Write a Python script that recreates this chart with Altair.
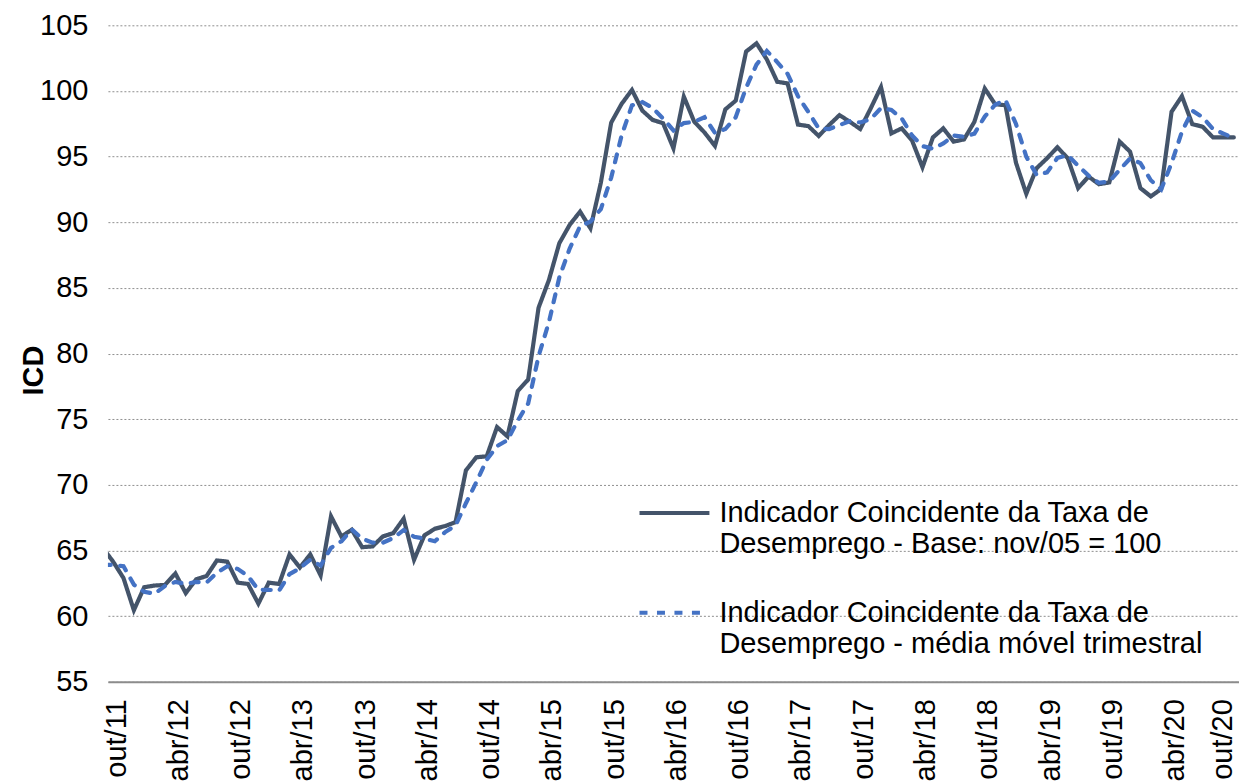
import altair as alt
import pandas as pd

# Tick labels (every 6 months, starting at out/11 = index 0)
tick_labels = ["out/11", "abr/12", "out/12", "abr/13", "out/13", "abr/14", "out/14",
               "abr/15", "out/15", "abr/16", "out/16", "abr/17", "out/17", "abr/18",
               "out/18", "abr/19", "out/19", "abr/20", "out/20"]

# Month index: -1 = set/11 (clipped at the left edge), 0 = out/11 ... 108 = out/20
month_index = list(range(-1, 109))

icd = [65.2, 64.15, 62.9, 60.45, 62.2, 62.33, 62.38, 63.25, 61.75, 62.8,
       63.05, 64.24, 64.15, 62.55, 62.45, 60.95, 62.55, 62.45, 64.7, 63.7,
       64.7, 63.1, 67.6, 66.07, 66.58, 65.25, 65.31, 66.07, 66.32, 67.42,
       64.29, 66.15, 66.65, 66.86, 67.16, 71.1, 72.1, 72.17, 74.4, 73.69,
       77.15, 78.02, 83.49, 85.6, 88.4, 89.8, 90.81, 89.54, 93.0, 97.59,
       99.01, 100.08, 98.5, 97.79, 97.54, 95.63, 99.57, 97.66, 96.83, 95.81,
       98.6, 99.26, 103.0, 103.63, 102.4, 100.7, 100.57, 97.44, 97.32, 96.57,
       97.4, 98.16, 97.65, 97.1, 98.66, 100.3, 96.77, 97.15, 96.21, 94.19,
       96.46, 97.15, 96.14, 96.31, 97.65, 100.18, 98.99, 98.91, 94.55, 92.17,
       94.12, 94.87, 95.71, 94.87, 92.6, 93.48, 92.9, 93.03, 96.14, 95.38,
       92.6, 91.97, 92.53, 98.41, 99.6, 97.47, 97.27, 96.46, 96.46, 96.46]

icd_mm3 = [63.9, 63.9, 63.8, 62.4, 61.85, 61.7, 62.3, 62.6, 62.45, 62.6,
           62.55, 63.3, 63.8, 63.6, 63.05, 62.0, 62.0, 61.95, 63.2, 63.65,
           64.3, 63.85, 65.2, 65.7, 66.6, 65.9, 65.6, 65.6, 65.95, 66.55,
           66.05, 65.9, 65.7, 66.4, 66.9, 68.6, 70.2, 71.9, 72.95, 73.4,
           74.9, 76.2, 79.8, 82.4, 85.8, 88.0, 89.7, 90.05, 91.0, 93.4,
           96.6, 98.9, 99.15, 98.7, 97.9, 97.0, 97.55, 97.65, 98.0, 96.8,
           97.1, 98.0, 100.25, 102.0, 103.05, 102.2, 101.3, 99.6, 98.4, 97.15,
           97.1, 97.4, 97.7, 97.6, 97.85, 98.7, 98.55, 97.9, 96.6, 95.8,
           95.6, 96.0, 96.6, 96.5, 96.75, 98.05, 98.95, 99.3, 97.5, 95.0,
           93.6, 93.8, 94.9, 95.1, 94.3, 93.55, 93.0, 93.1, 94.0, 94.85,
           94.5, 93.2, 92.5, 94.5, 96.9, 98.5, 98.0, 97.1, 96.75, 96.4]

series_names = [
    "Indicador Coincidente da Taxa de|Desemprego - Base: nov/05 = 100",
    "Indicador Coincidente da Taxa de|Desemprego - média móvel trimestral",
]
series_colors = ["#44546A", "#4472C4"]

df = pd.DataFrame({
    "mes": month_index + month_index,
    "valor": icd + icd_mm3,
    "serie": [series_names[0]] * len(icd) + [series_names[1]] * len(icd_mm3),
})

label_array = "[" + ",".join("'" + t + "'" for t in tick_labels) + "]"

FONT = "Liberation Sans"
FS = 29

legend = alt.Legend(
    title=None,
    orient="none",
    legendX=530,
    legendY=451,
    symbolType="stroke",
    symbolSize=4900,
    symbolStrokeWidth=4,
    labelFontSize=FS,
    labelFont=FONT,
    labelColor="#000000",
    labelLimit=0,
    labelOffset=8,
    rowPadding=17,
    padding=0,
    labelExpr="split(datum.label, '|')",
)

chart = alt.Chart(df).mark_line(strokeWidth=4.2, clip=True, strokeCap="round").encode(
    x=alt.X(
        "mes:Q",
        scale=alt.Scale(domain=[-0.5, 108.5], nice=False, zero=False),
        axis=alt.Axis(
            values=list(range(0, 109, 6)),
            labelExpr=label_array + "[round(datum.value / 6)]",
            labelAngle=-90,
            labelFontSize=FS,
            labelFont=FONT,
            labelColor="#000000",
            labelPadding=17,
            labelOffset={"condition": {"test": "datum.value >= 108", "value": -11}, "value": 3},
            labelFlush=False,
            labelOverlap=False,
            ticks=False,
            grid=False,
            domainColor="#8c8c8c",
            domainWidth=2,
        ),
        title=None,
    ),
    y=alt.Y(
        "valor:Q",
        scale=alt.Scale(domain=[55, 105], nice=False, zero=False),
        axis=alt.Axis(
            values=list(range(55, 106, 5)),
            labelFontSize=FS,
            labelFont=FONT,
            labelColor="#000000",
            labelPadding=20,
            ticks=False,
            domain=False,
            grid=True,
            gridColor="#8f8f8f",
            gridDash=[2, 2],
            gridWidth=1,
            title="ICD",
            titleFont=FONT,
            titleFontSize=FS,
            titleFontWeight="bold",
            titleColor="#000000",
            titleX=-65,
            titleY=345,
            titleBaseline="alphabetic",
        ),
    ),
    color=alt.Color(
        "serie:N",
        scale=alt.Scale(domain=series_names, range=series_colors),
        legend=legend,
    ),
    strokeDash=alt.StrokeDash(
        "serie:N",
        scale=alt.Scale(domain=series_names, range=[[1, 0], [8, 9.5]]),
        legend=legend,
    ),
).properties(
    width=1132,
    height=657,
    padding={"left": 100, "top": 17, "right": 0, "bottom": 102},
    autosize="none",
).configure(
    font=FONT,
).configure_view(
    strokeWidth=0,
)

chart.save("out.html", embed_options={"renderer": "svg", "actions": False})
